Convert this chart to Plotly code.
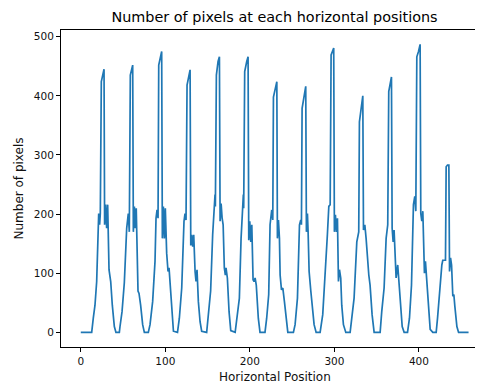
import plotly.graph_objects as go

# Horizontal positions (vertices)
positions = [
    0, 12.9, 14.8, 16.8, 18.8, 20.0, 21.2, 22.3, 23.1, 24.3, 25.9, 27.5, 28.2, 29.4, 30.6, 31.8, 33.4, 35.4, 37.3, 39.7, 41.6, 45.6,
    46.4, 48.8, 51.5, 54.3, 56.2, 57.4, 58.6, 60.2, 61.4, 62.2, 63.4, 64.5, 65.6, 67.7, 68.9, 70.8, 73.2, 75.2, 79.9,
    81.9, 85.0, 87.8, 89.0, 90.2, 91.4, 92.2, 93.7, 95.7, 96.5, 97.7, 98.9, 100.0, 101.6, 103.2, 104.4, 105.6, 107.6, 109.6, 114.4,
    116.6, 119.4, 122.1, 123.3, 124.5, 125.7, 127.3, 129.3, 130.1, 131.2, 132.4, 133.6, 135.2, 136.3, 137.5, 139.1, 141.1, 143.0, 148.9,
    150.9, 153.6, 156.0, 157.6, 158.8, 159.2, 160.4, 162.4, 164.0, 164.8, 166.0, 167.2, 168.4, 169.8, 171.0, 171.8, 173.4, 175.4, 177.4, 182.6,
    184.4, 187.6, 189.6, 191.1, 192.3, 192.7, 193.9, 196.3, 197.9, 198.7, 199.9, 201.1, 202.3, 203.8, 205.0, 206.2, 207.6, 210.0, 212.0, 217.9,
    219.9, 222.3, 223.9, 225.9, 227.1, 227.9, 229.5, 231.9, 232.6, 233.8, 235.0, 235.8, 237.4, 239.0, 240.9, 242.9, 244.9, 251.5,
    253.5, 256.3, 258.7, 260.2, 261.0, 261.8, 263.4, 266.1, 266.9, 268.1, 268.9, 270.1, 272.1, 273.7, 276.0, 278.4, 283.1,
    286.2, 289.0, 291.7, 293.4, 295.0, 296.1, 298.0, 299.2, 300.0, 301.2, 302.4, 303.6, 304.8, 306.0, 307.5, 308.7, 310.7, 313.5, 318.6,
    320.6, 323.3, 326.5, 328.8, 329.6, 331.2, 333.6, 334.4, 336.0, 337.5, 339.5, 340.7, 342.2, 344.6, 347.0, 354.1,
    356.0, 358.8, 361.2, 363.1, 364.3, 365.9, 367.5, 368.3, 369.5, 370.6, 371.8, 373.0, 374.9, 376.1, 378.2, 380.2, 382.5, 386.5,
    388.8, 391.2, 393.5, 395.1, 396.3, 397.5, 399.5, 401.4, 402.2, 403.4, 404.6, 406.5, 407.7, 408.9, 411.3, 413.3, 416.4, 420.4,
    422.0, 424.3, 427.1, 428.2, 431.4, 432.2, 433.8, 435.4, 436.2, 437.4, 438.6, 440.1, 441.3, 442.5, 444.9, 446.9, 458.7,
]

# Number of pixels at each position
pixel_counts = [
    0, 0, 24, 46, 86, 137, 201, 182, 201, 424, 435, 445, 182, 216, 176, 216, 106, 86, 46, 10, 0, 0,
    10, 35, 84, 176, 201, 170, 435, 449, 452, 170, 213, 176, 210, 70, 66, 46, 13, 0, 0,
    13, 52, 120, 193, 207, 193, 452, 461, 475, 159, 213, 159, 210, 134, 103, 109, 84, 30, 2, 0,
    24, 75, 188, 201, 190, 418, 432, 444, 147, 165, 145, 165, 103, 86, 106, 52, 18, 2, 0,
    35, 70, 165, 213, 233, 213, 435, 458, 466, 188, 218, 193, 182, 109, 97, 109, 92, 35, 3, 0,
    18, 58, 159, 213, 233, 210, 441, 458, 466, 156, 188, 153, 182, 89, 86, 92, 80, 24, 0, 0,
    24, 64, 182, 207, 190, 398, 409, 424, 159, 190, 159, 97, 72, 75, 52, 24, 0, 0,
    13, 58, 182, 190, 182, 379, 396, 416, 170, 201, 170, 103, 70, 46, 13, 0, 0,
    30, 92, 165, 213, 216, 469, 475, 481, 170, 199, 170, 193, 86, 106, 92, 46, 13, 0, 0,
    24, 58, 153, 170, 356, 373, 400, 173, 182, 159, 114, 97, 80, 30, 0, 0,
    35, 75, 159, 182, 407, 424, 432, 176, 153, 173, 126, 92, 114, 92, 46, 10, 0, 0,
    24, 80, 216, 230, 205, 466, 475, 487, 201, 188, 205, 100, 120, 92, 35, 5, 0, 0,
    24, 70, 114, 122, 122, 280, 283, 283, 103, 126, 114, 61, 64, 44, 10, 0, 0,
]

# Tick values / labels
x_ticks = [0, 100, 200, 300, 400]
y_ticks = [0, 100, 200, 300, 400, 500]

# The page places the figure 8px from the top-left corner, so compensate.
OFF = 8
W, H = 483 - OFF, 385 - OFF
L, R, T = 61 - OFF, 1, 30 - OFF
B = (OFF + H) - 347  # plot bottom at window y 347

PW = W - L - R
PH = H - T - B

def px_x(wx):
    return (wx - OFF - L) / PW

def px_y(wy):
    return ((OFF + T + PH) - wy) / PH

fig = go.Figure()
fig.add_trace(go.Scatter(
    x=positions, y=pixel_counts, mode="lines",
    line=dict(color="#1f77b4", width=1.7),
    hoverinfo="skip", showlegend=False,
))

font = "DejaVu Sans, sans-serif"
fig.update_layout(
    width=W, height=H,
    margin=dict(l=L, r=R, t=T, b=B, pad=0),
    paper_bgcolor="white", plot_bgcolor="white",
    font=dict(family=font, size=10.5, color="black"),
    title=dict(
        text="Number of pixels at each horizontal positions",
        x=(274.5 - OFF) / W, xanchor="center", xref="container",
        y=1 - (17 - OFF) / H, yanchor="middle",
        font=dict(size=14.4, family=font, color="black"),
    ),
    xaxis=dict(
        range=[-23.4, 474.6], tickvals=x_ticks, ticktext=[str(v) for v in x_ticks],
        showgrid=False, zeroline=False,
        showline=True, linecolor="black", linewidth=1, mirror=True,
        ticks="outside", ticklen=4, tickcolor="black", tickwidth=1,
        tickfont=dict(size=10.5, family=font, color="#111"),
    ),
    yaxis=dict(
        range=[-24.7, 511.3], tickvals=y_ticks, ticktext=[str(v) for v in y_ticks],
        showgrid=False, zeroline=False,
        showline=True, linecolor="black", linewidth=1, mirror=False,
        ticks="outside", ticklen=4, tickcolor="black", tickwidth=1,
        tickfont=dict(size=10.5, family=font, color="#111"),
    ),
    annotations=[
        dict(text="Horizontal Position", xref="paper", yref="paper",
             x=px_x(274.5), y=px_y(376.5),
             xanchor="center", yanchor="middle", showarrow=False,
             font=dict(size=12, family=font, color="#111")),
        dict(text="Number of pixels", xref="paper", yref="paper",
             x=px_x(18), y=0.5, textangle=-90,
             xanchor="center", yanchor="middle", showarrow=False,
             font=dict(size=12, family=font, color="#111")),
    ],
)

fig.write_html("out.html")
